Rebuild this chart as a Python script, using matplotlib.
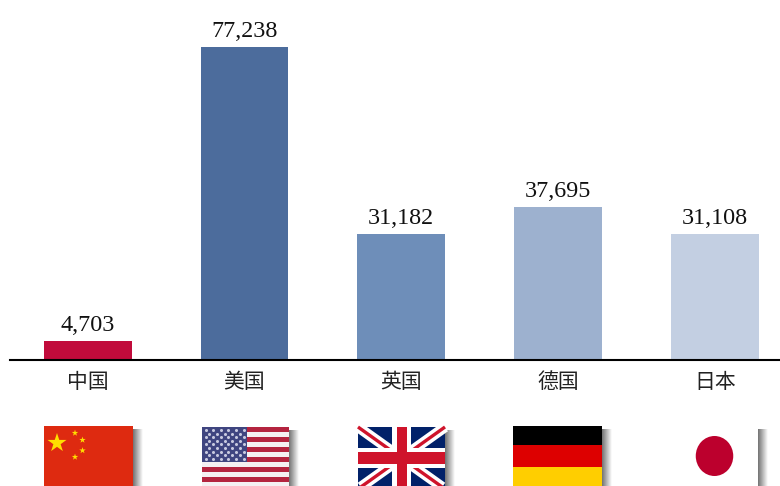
import numpy as np
import matplotlib
matplotlib.use('Agg')
import matplotlib.pyplot as plt
from matplotlib.patches import Rectangle, Polygon, Ellipse

plt.rcParams['font.family'] = ['Liberation Serif', 'Noto Sans CJK SC', 'DejaVu Sans']

countries = ['中国', '美国', '英国', '德国', '日本']
values = [4703, 77238, 31182, 37695, 31108]
bar_colors = ['#C10B3B', '#4C6C9C', '#6E8EB9', '#9DB1CF', '#C3CFE2']


def rect(ax, x0, y0, x1, y1, color, z=2):
    ax.add_patch(Rectangle((x0, y0), x1 - x0, y1 - y0, fc=color, ec='none', zorder=z))


def star(ax, cx, cy, r, color):
    ang = np.pi / 2 + np.arange(10) * np.pi / 5
    rad = np.where(np.arange(10) % 2 == 0, r, r * 0.382)
    pts = np.column_stack([cx + rad * np.cos(ang), cy - rad * np.sin(ang)])
    ax.add_patch(Polygon(pts, fc=color, ec='none', zorder=3))


def shadow(ax, x1, y0, y1):
    # soft grey fade down the right edge of a flag
    fade = np.zeros((1, 32, 4))
    fade[0, :, :3] = 0.35
    fade[0, :, 3] = np.linspace(0.85, 0, 32)
    ax.imshow(fade, extent=(x1, x1 + 10, y1, y0 + 3), aspect='auto', interpolation='bilinear', zorder=1)


def flag_china(ax):
    rect(ax, 44, 426, 133, 486, '#DE2A10')
    star(ax, 57, 443, 10, '#FFDE00')
    for cx, cy in [(75, 433), (82.5, 440), (82.5, 450.5), (75, 457)]:
        star(ax, cx, cy, 3.4, '#FFDE00')


def flag_usa(ax):
    rect(ax, 202, 427, 289, 486, '#F4F0F2')
    for i in range(6):
        rect(ax, 202, 427 + i * 10, 289, 432 + i * 10, '#B4243F')
    rect(ax, 202, 427, 247, 462, '#3F4580', z=3)
    for row in range(9):
        offset = 0 if row % 2 == 0 else 3.8
        for col in range(6 if row % 2 == 0 else 5):
            ax.plot(205.5 + offset + col * 7.6, 430 + row * 3.6, 'o', ms=2.2, mfc='#C8CAE0', mec='none', zorder=4)


def flag_uk(ax):
    rect(ax, 358, 427, 445, 486, '#012169')
    corners = [((358, 427), (445, 489)), ((445, 427), (358, 489))]
    for a, b in corners:
        ax.plot([a[0], b[0]], [a[1], b[1]], color='white', lw=7.5, solid_capstyle='butt', zorder=2.1)
    for a, b in corners:
        ax.plot([a[0], b[0]], [a[1], b[1]], color='#CF142B', lw=2.4, solid_capstyle='butt', zorder=2.2)
    rect(ax, 392, 427, 411, 486, 'white', z=2.3)
    rect(ax, 358, 448, 445, 468, 'white', z=2.3)
    rect(ax, 397, 427, 406.5, 486, '#CF142B', z=2.4)
    rect(ax, 358, 452, 445, 464, '#CF142B', z=2.4)


def flag_germany(ax):
    rect(ax, 513, 426, 602, 445, '#000000')
    rect(ax, 513, 445, 602, 467, '#DD0000')
    rect(ax, 513, 467, 602, 486, '#FFCE00')


def flag_japan(ax):
    rect(ax, 671, 426, 758, 486, '#FFFFFF')
    ax.add_patch(Ellipse((714.5, 456), 37.5, 40, fc='#BC002D', ec='none', zorder=3))


def main():
    fig = plt.figure(figsize=(7.8, 4.86), dpi=100)

    ax = fig.add_axes([10 / 780, 126 / 486, 770 / 780, 360 / 486])
    bars = ax.bar(range(len(values)), values, width=0.56, color=bar_colors)
    ax.set_xlim(-0.495, 4.415)
    ax.set_ylim(0, 88800)
    ax.set_xticks(range(len(countries)))
    ax.set_xticklabels(countries, fontsize=15, color='#222222', family=['Noto Sans CJK SC', 'DejaVu Sans'])
    ax.tick_params(axis='x', length=0, pad=8)
    ax.set_yticks([])
    for side in ['top', 'left', 'right']:
        ax.spines[side].set_visible(False)
    ax.spines['bottom'].set_linewidth(1.5)
    ax.bar_label(bars, labels=[f'{v:,}' for v in values], fontsize=17.4, padding=3.6, color='#111111')

    # flags sit under the axis, laid out in pixels
    fx = fig.add_axes([0, 0, 1, 1], zorder=3)
    fx.patch.set_alpha(0)
    for x1, y0 in [(133, 426), (289, 427), (445, 427), (602, 426), (758, 426)]:
        shadow(fx, x1, y0, 486)
    flag_china(fx)
    flag_usa(fx)
    flag_uk(fx)
    flag_germany(fx)
    flag_japan(fx)
    fx.set_xlim(0, 780)
    fx.set_ylim(486, 0)
    fx.axis('off')

    fig.savefig('out.png', dpi=100)


if __name__ == "__main__":
    main()
